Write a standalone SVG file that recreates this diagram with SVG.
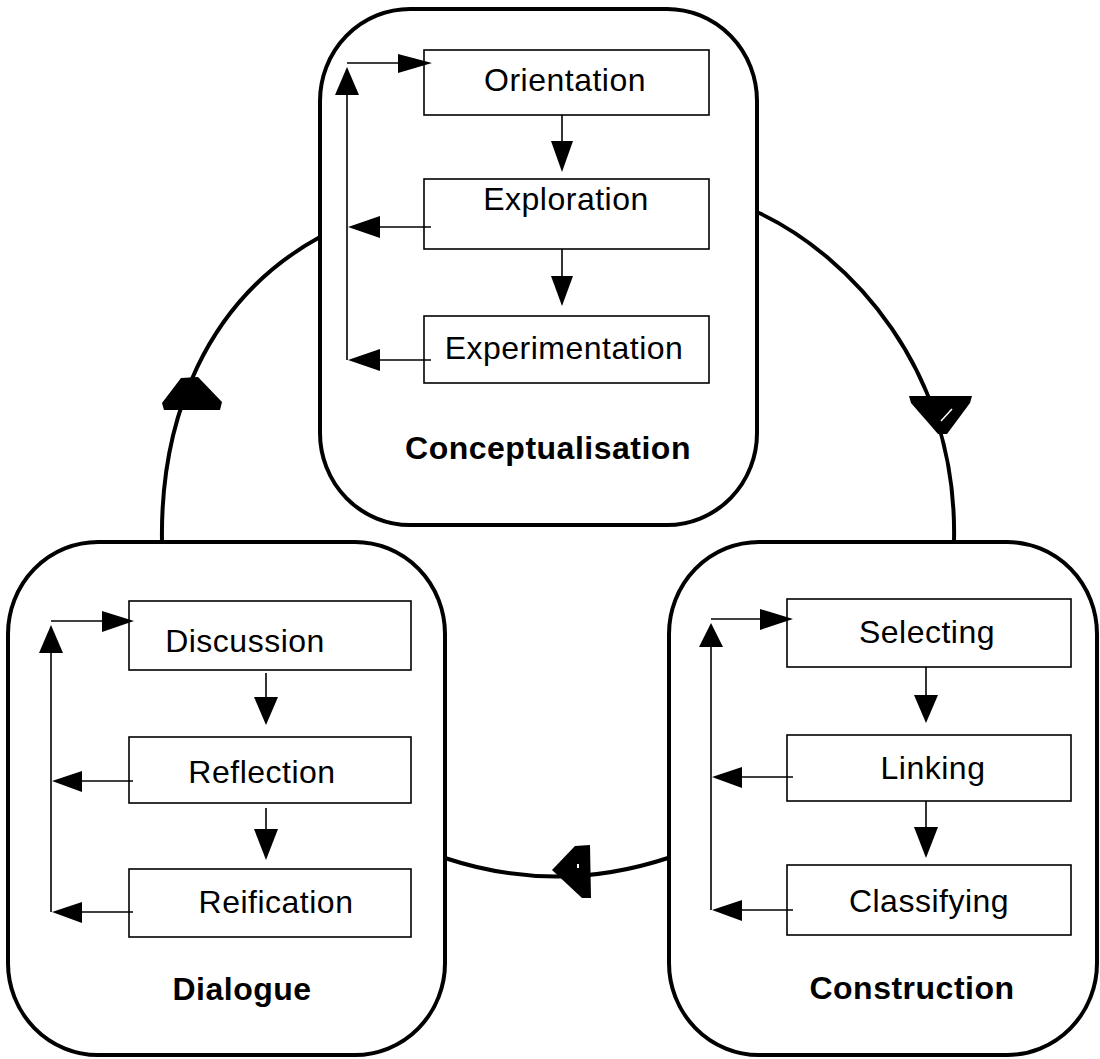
<svg xmlns="http://www.w3.org/2000/svg" width="1100" height="1059" viewBox="0 0 1100 1059">
  <style>
    .phase { fill: #fff; stroke: #000; stroke-width: 4; }
    .step { fill: #fff; stroke: #000; stroke-width: 1.6; }
    .label { font-family: "Liberation Sans", Arial, sans-serif; font-size: 32px; letter-spacing: 0.5px; fill: #000; text-anchor: middle; }
    .title { font-family: "Liberation Sans", Arial, sans-serif; font-size: 32px; font-weight: bold; letter-spacing: 0.5px; fill: #000; text-anchor: middle; }
    .cycle { fill: none; stroke: #000; stroke-width: 4; }
    .flow { fill: none; stroke: #000; stroke-width: 1.6; }
    .head { fill: #000; stroke: none; }
  </style>
  <rect width="1100" height="1059" fill="#fff"/>

  <!-- Phase: Conceptualisation -->
  <g id="conceptualisation">
    <rect class="phase" x="320" y="9" width="437" height="516" rx="90" ry="92"/>
    <text class="title" x="548" y="459">Conceptualisation</text>
    <g id="orientation">
      <rect class="step" x="424" y="50" width="285" height="65"/>
      <text class="label" x="565" y="91">Orientation</text>
    </g>
    <g id="exploration">
      <rect class="step" x="424" y="179" width="285" height="70"/>
      <text class="label" x="566" y="210">Exploration</text>
    </g>
    <g id="experimentation">
      <rect class="step" x="424" y="316" width="285" height="67"/>
      <text class="label" x="564" y="359">Experimentation</text>
    </g>
  </g>

  <!-- Phase: Dialogue -->
  <g id="dialogue">
    <rect class="phase" x="8" y="542" width="437" height="513" rx="90" ry="92"/>
    <text class="title" x="242" y="1000">Dialogue</text>
    <g id="discussion">
      <rect class="step" x="129" y="601" width="282" height="69"/>
      <text class="label" x="245" y="652">Discussion</text>
    </g>
    <g id="reflection">
      <rect class="step" x="129" y="737" width="282" height="66"/>
      <text class="label" x="262" y="783">Reflection</text>
    </g>
    <g id="reification">
      <rect class="step" x="129" y="869" width="282" height="68"/>
      <text class="label" x="276" y="913">Reification</text>
    </g>
  </g>

  <!-- Phase: Construction -->
  <g id="construction">
    <rect class="phase" x="669" y="542" width="428" height="513" rx="90" ry="92"/>
    <text class="title" x="912" y="999">Construction</text>
    <g id="selecting">
      <rect class="step" x="787" y="599" width="284" height="68"/>
      <text class="label" x="927" y="643">Selecting</text>
    </g>
    <g id="linking">
      <rect class="step" x="787" y="735" width="284" height="66"/>
      <text class="label" x="933" y="779">Linking</text>
    </g>
    <g id="classifying">
      <rect class="step" x="787" y="865" width="284" height="70"/>
      <text class="label" x="929" y="912">Classifying</text>
    </g>
  </g>

  <g id="connectors">
    <!-- cycle between the three phases -->
    <path class="cycle" d="M162,542 C160,420 205,300 320,237"/>
    <polygon class="head" points="181,378 198,377 222,402 220,410 164,410 162,403"/>

    <path class="cycle" d="M757,212 C850,255 958,370 954,542"/>
    <polygon class="head" points="909,396 972,396 970,403 947,434 938,434 911,403"/>
    <line x1="941" y1="421" x2="952" y2="409" stroke="#fff" stroke-width="1.5"/>

    <path class="cycle" d="M668,858 Q556,895 445,858"/>
    <polygon class="head" points="552,870 575,846 590,845 591,898 582,898"/>
    <rect x="577" y="864" width="2" height="4" fill="#fff"/>

    <!-- Conceptualisation steps -->
    <line class="flow" x1="562" y1="115" x2="562" y2="142"/>
    <polygon class="head" points="551,141 573,141 562,172"/>
    <line class="flow" x1="562" y1="249" x2="562" y2="277"/>
    <polygon class="head" points="551,276 573,276 562,306"/>
    <line class="flow" x1="347" y1="360" x2="347" y2="94"/>
    <polygon class="head" points="335,95 359,95 347,67"/>
    <line class="flow" x1="347" y1="63" x2="400" y2="63"/>
    <polygon class="head" points="398,54 398,73 432,63"/>
    <line class="flow" x1="431" y1="227" x2="379" y2="227"/>
    <polygon class="head" points="380,216 380,238 348,227"/>
    <line class="flow" x1="431" y1="360" x2="379" y2="360"/>
    <polygon class="head" points="380,349 380,371 348,360"/>

    <!-- Dialogue steps -->
    <line class="flow" x1="266" y1="673" x2="266" y2="698"/>
    <polygon class="head" points="254,697 278,697 266,725"/>
    <line class="flow" x1="266" y1="808" x2="266" y2="830"/>
    <polygon class="head" points="254,829 278,829 266,860"/>
    <line class="flow" x1="51" y1="912" x2="51" y2="652"/>
    <polygon class="head" points="39,653 63,653 51,625"/>
    <line class="flow" x1="51" y1="621" x2="103" y2="621"/>
    <polygon class="head" points="102,611 102,632 134,621"/>
    <line class="flow" x1="133" y1="781" x2="81" y2="781"/>
    <polygon class="head" points="82,771 82,792 52,781"/>
    <line class="flow" x1="133" y1="912" x2="81" y2="912"/>
    <polygon class="head" points="82,902 82,923 52,912"/>

    <!-- Construction steps -->
    <line class="flow" x1="926" y1="667" x2="926" y2="696"/>
    <polygon class="head" points="914,695 938,695 926,723"/>
    <line class="flow" x1="926" y1="801" x2="926" y2="828"/>
    <polygon class="head" points="914,827 938,827 926,858"/>
    <line class="flow" x1="711" y1="910" x2="711" y2="646"/>
    <polygon class="head" points="699,647 723,647 711,623"/>
    <line class="flow" x1="711" y1="619" x2="761" y2="619"/>
    <polygon class="head" points="760,609 760,630 793,619"/>
    <line class="flow" x1="793" y1="777" x2="741" y2="777"/>
    <polygon class="head" points="742,767 742,788 712,777"/>
    <line class="flow" x1="793" y1="910" x2="741" y2="910"/>
    <polygon class="head" points="742,900 742,921 712,910"/>
  </g>
</svg>
